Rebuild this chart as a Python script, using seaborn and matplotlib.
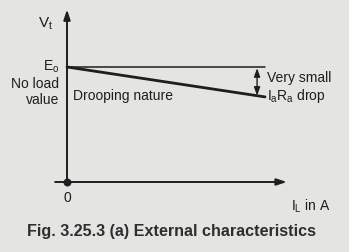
import matplotlib
matplotlib.use("Agg")
import matplotlib.pyplot as plt
import seaborn as sns
import pandas as pd

# Data (arbitrary units)
load_current = [0, 100]          # I_L in A
no_load_voltage = [100, 100]     # E_o level
terminal_voltage = [100, 74]     # drooping V_t
drop_position = 96               # where the I_aR_a drop arrow sits

sns.set_style("white")
plt.rcParams['font.family'] = ['Liberation Sans', 'DejaVu Sans']
plt.rcParams['mathtext.fontset'] = 'custom'
plt.rcParams['mathtext.rm'] = 'Liberation Sans'

bg = "#e4e4e2"
ink = "#1e1e1e"
W, H = 349, 253
fig = plt.figure(figsize=(W / 100, H / 100), dpi=100, facecolor=bg)
ax = fig.add_axes([0, 0, 1, 1])
ax.set_facecolor(bg)

sx, sy = 1.98, 1.15   # px per data unit
ox, oy = 67, 183      # origin pixel
ax.set_xlim(-ox / sx, (W - ox) / sx)
ax.set_ylim(-(H - oy) / sy, oy / sy)
ax.axis("off")

df = pd.DataFrame({"I": load_current, "E": no_load_voltage, "V": terminal_voltage})
sns.lineplot(data=df, x="I", y="E", ax=ax, color=ink, lw=1.1)
sns.lineplot(data=df, x="I", y="V", ax=ax, color=ink, lw=2.0)

# axes arrows
ax.annotate("", xy=(111, 0), xytext=(-6, 0),
            arrowprops=dict(arrowstyle="-|>,head_length=0.6,head_width=0.2", color=ink, lw=1.4, shrinkA=0, shrinkB=0))
ax.annotate("", xy=(0, 150), xytext=(0, 0),
            arrowprops=dict(arrowstyle="-|>,head_length=0.6,head_width=0.2", color=ink, lw=1.4, shrinkA=0, shrinkB=0))
sns.scatterplot(x=[0], y=[0], ax=ax, color=ink, s=28, zorder=5, edgecolor=ink)

# drop arrow
ax.annotate("", xy=(drop_position, terminal_voltage[1] + 1), xytext=(drop_position, no_load_voltage[1] - 1),
            arrowprops=dict(arrowstyle="<|-|>,head_length=0.5,head_width=0.18", color=ink, lw=1.0, shrinkA=0, shrinkB=0))

fs = 10
ax.text(-11, 138, r"$\mathregular{V_t}$", fontsize=fs + 1, color=ink, ha="center", va="center")
ax.text(-8, 101, r"$\mathregular{E_o}$", fontsize=fs, color=ink, ha="center", va="center")
ax.text(-4, 86, "No load", fontsize=fs, color=ink, ha="right", va="center")
ax.text(-4, 72, "value", fontsize=fs, color=ink, ha="right", va="center")
ax.text(3, 76, "Drooping nature", fontsize=fs, color=ink, ha="left", va="center")
ax.text(101, 91, "Very small", fontsize=fs, color=ink, ha="left", va="center")
ax.text(101, 76, r"$\mathregular{I_aR_a}$ drop", fontsize=fs, color=ink, ha="left", va="center")
ax.text(0, -13, "0", fontsize=fs, color=ink, ha="center", va="center")
ax.text(123, -20, r"$\mathregular{I_L}$ in A", fontsize=fs, color=ink, ha="center", va="center")
ax.text(53, -42.5, "Fig. 3.25.3 (a) External characteristics", fontsize=11.6,
        fontweight="bold", color="#2e2e2e", ha="center", va="center")

fig.savefig("out.png", dpi=100, facecolor=bg)
